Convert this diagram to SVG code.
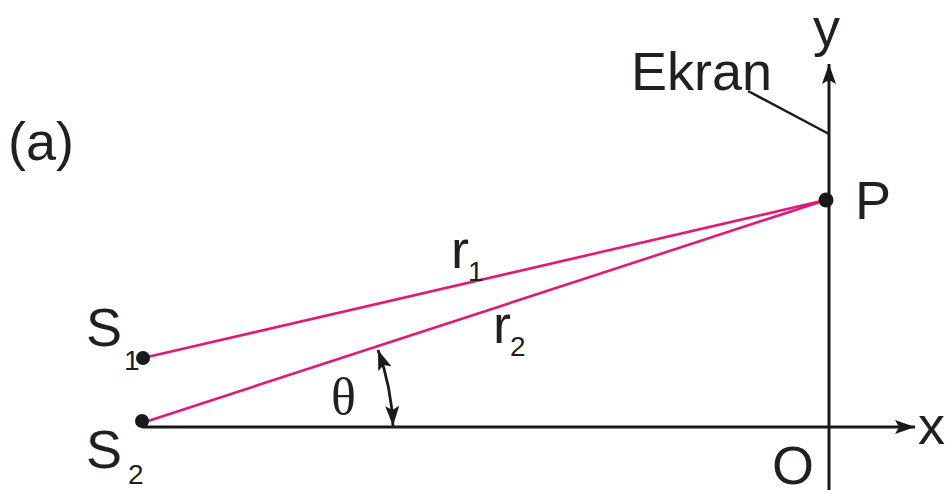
<svg xmlns="http://www.w3.org/2000/svg" width="952" height="490" viewBox="0 0 952 490">
<style>
.t{font-family:"Liberation Sans",Arial,sans-serif;fill:#231f20}
.big{font-size:54px}
.sub{font-size:28px}
.ax{stroke:#1a1a1a;stroke-width:3;fill:none}
.ray{stroke:#e0197d;stroke-width:2.6;fill:none}
</style>
<defs>
<marker id="ah" viewBox="0 0 20 14" refX="20" refY="7" markerWidth="20" markerHeight="14" markerUnits="userSpaceOnUse" orient="auto-start-reverse">
<path d="M0,0 L20,7 L0,14 L4,7 Z" fill="#1a1a1a"/>
</marker>
</defs>
<g id="connectors">
<line class="ax" x1="829" y1="490" x2="829" y2="64" marker-end="url(#ah)"/>
<line class="ax" x1="142" y1="427" x2="915" y2="427" marker-end="url(#ah)"/>
<line x1="748" y1="91" x2="829" y2="134" stroke="#1a1a1a" stroke-width="2.5"/>
<line class="ray" x1="143" y1="358" x2="826" y2="200"/>
<line class="ray" x1="142" y1="423" x2="826" y2="200"/>
<path d="M 378 350 A 250 250 0 0 1 393 426" fill="none" stroke="#1a1a1a" stroke-width="2.8" marker-start="url(#ah)" marker-end="url(#ah)"/>
</g>
<g id="P"><circle cx="826" cy="200" r="7.5" fill="#1a1a1a"/><text class="t big" x="855" y="219">P</text></g>
<g id="S1"><circle cx="143" cy="358" r="7" fill="#1a1a1a"/><text class="t big" x="86" y="346">S</text><text class="t sub" x="124" y="370">1</text></g>
<g id="S2"><circle cx="142" cy="421" r="7" fill="#1a1a1a"/><text class="t big" x="86" y="468">S</text><text class="t sub" x="128" y="484">2</text></g>
<g id="labels">
<text class="t big" x="813" y="46">y</text>
<text class="t big" x="631" y="90">Ekran</text>
<text class="t big" x="8" y="160">(a)</text>
<text class="t big" x="918" y="444">x</text>
<text class="t big" x="772" y="484">O</text>
<text class="t big" x="451" y="268">r</text><text class="t sub" x="468" y="281">1</text>
<text class="t big" x="493" y="343">r</text><text class="t sub" x="510" y="356">2</text>
<text x="331" y="414" style="font-family:'Liberation Serif','Times New Roman',serif;font-size:52px;fill:#231f20">θ</text>
</g>
</svg>
